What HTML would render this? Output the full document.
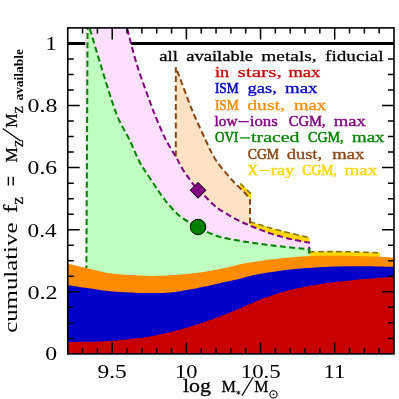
<!DOCTYPE html>
<html><head><meta charset="utf-8"><style>html,body{margin:0;padding:0;background:#fff}svg{display:block;will-change:transform}.sa{font-family:"Liberation Sans",sans-serif;fill:#000;stroke:#fff;stroke-width:0.4px}.se{font-family:"Liberation Serif",serif}</style></head><body><svg width="399" height="399" viewBox="0 0 399 399">
<rect width="399" height="399" fill="#fff"/>
<defs><clipPath id="c"><rect x="67.75" y="27.90" width="326.25" height="326.00"/></clipPath></defs>
<g clip-path="url(#c)">
<line x1="67.75" x2="394.00" y1="43.5" y2="43.5" stroke="#000" stroke-width="3.2"/>
<path d="M85.4,353.90 L85.2,20 L124.90,20.00 C125.25,21.33 124.98,20.50 127.00,28.00 C129.02,35.50 133.28,53.00 137.00,65.00 C140.72,77.00 145.97,90.83 149.30,100.00 C152.63,109.17 154.22,113.33 157.00,120.00 C159.78,126.67 162.78,133.75 166.00,140.00 C169.22,146.25 173.45,152.50 176.30,157.50 C179.15,162.50 180.73,166.17 183.10,170.00 C185.47,173.83 188.02,177.13 190.50,180.50 C192.98,183.87 195.58,187.57 198.00,190.20 C200.42,192.83 203.00,194.42 205.00,196.30 C207.00,198.18 208.33,199.88 210.00,201.50 C211.67,203.12 213.33,204.62 215.00,206.00 C216.67,207.38 217.50,208.17 220.00,209.80 C222.50,211.43 226.67,213.92 230.00,215.80 C233.33,217.68 236.67,219.47 240.00,221.10 C243.33,222.73 246.67,224.18 250.00,225.60 C253.33,227.02 256.67,228.30 260.00,229.60 C263.33,230.90 266.17,232.13 270.00,233.40 C273.83,234.67 278.83,236.10 283.00,237.20 C287.17,238.30 291.33,239.22 295.00,240.00 C298.67,240.78 302.62,241.47 305.00,241.90 C307.38,242.33 308.54,242.48 309.25,242.60 L309.25,353.90 Z" fill="#ffdfff"/>
<path d="M175.80,157.00 L175.80,67.30 L175.80,67.30 C176.62,69.42 177.98,72.88 180.70,80.00 C183.42,87.12 187.95,100.00 192.10,110.00 C196.25,120.00 201.65,131.67 205.60,140.00 C209.55,148.33 211.40,153.33 215.80,160.00 C220.20,166.67 227.13,174.50 232.00,180.00 C236.87,185.50 242.00,189.67 245.00,193.00 C248.00,196.33 249.17,198.83 250.00,200.00 L250.00,226 L250.00,225.60 L240.00,221.10 L230.00,215.80 L220.00,209.80 L215.00,206.00 L210.00,201.50 L205.00,196.30 L198.00,190.20 L190.50,180.50 L183.10,170.00 L176.30,157.50 Z" fill="#ffe1c4"/>
<path d="M86.3,353.90 L87.6,20 L87.10,20.00 C87.52,21.33 87.33,20.50 89.60,28.00 C91.87,35.50 97.03,53.00 100.70,65.00 C104.37,77.00 108.55,90.83 111.60,100.00 C114.65,109.17 116.00,113.33 119.00,120.00 C122.00,126.67 126.33,133.33 129.60,140.00 C132.87,146.67 136.12,155.00 138.60,160.00 C141.08,165.00 141.85,165.83 144.50,170.00 C147.15,174.17 151.08,180.00 154.50,185.00 C157.92,190.00 161.00,195.00 165.00,200.00 C169.00,205.00 174.25,211.17 178.50,215.00 C182.75,218.83 187.25,221.00 190.50,223.00 C193.75,225.00 195.58,225.68 198.00,227.00 C200.42,228.32 201.33,229.25 205.00,230.90 C208.67,232.55 214.17,235.23 220.00,236.90 C225.83,238.57 233.33,239.75 240.00,240.90 C246.67,242.05 253.33,242.90 260.00,243.80 C266.67,244.70 271.79,245.38 280.00,246.30 C288.21,247.22 304.38,248.80 309.25,249.30 L309.25,353.90 Z" fill="#bfffbf"/>
<path d="M240.2,187.9 L240.2,183.0 L251.0,193.4 L251.0,199.5 Z" fill="#ffd700"/>
<path d="M250.00,221.80 C251.67,222.30 255.00,223.33 260.00,224.80 C265.00,226.27 271.79,228.47 280.00,230.60 C288.21,232.73 304.38,236.43 309.25,237.60 L309.25,242.60 L305.00,241.90 L295.00,240.00 L283.00,237.20 L270.00,233.40 L260.00,229.60 L250.00,225.60 Z" fill="#ffd700"/>
<path d="M309.25,251.80 C312.71,251.77 322.38,251.58 330.00,251.60 C337.62,251.62 346.67,251.70 355.00,251.90 C363.33,252.10 375.83,252.65 380.00,252.80 L380,258 L309.25,258 Z" fill="#ffd700"/>
<path d="M67.00,263.50 C70.17,264.25 78.83,266.38 86.00,268.00 C93.17,269.62 101.83,272.05 110.00,273.25 C118.17,274.45 127.50,274.76 135.00,275.20 C142.50,275.64 148.33,275.93 155.00,275.90 C161.67,275.87 167.50,275.57 175.00,275.00 C182.50,274.43 191.67,273.67 200.00,272.50 C208.33,271.33 218.33,269.37 225.00,268.00 C231.67,266.63 235.83,265.20 240.00,264.30 C244.17,263.40 245.83,263.28 250.00,262.60 C254.17,261.92 258.33,261.05 265.00,260.20 C271.67,259.35 282.50,258.18 290.00,257.50 C297.50,256.82 303.33,256.38 310.00,256.10 C316.67,255.82 322.50,255.82 330.00,255.80 C337.50,255.78 346.67,255.85 355.00,256.00 C363.33,256.15 373.33,256.42 380.00,256.70 C386.67,256.98 392.50,257.53 395.00,257.70 L395.00,355.90 L67.00,355.90 Z" fill="#ff8c00"/>
<path d="M67.00,285.00 C70.00,285.47 77.83,286.76 85.00,287.80 C92.17,288.84 101.67,290.43 110.00,291.25 C118.33,292.07 128.33,292.41 135.00,292.70 C141.67,292.99 145.83,292.95 150.00,293.00 C154.17,293.05 155.83,293.17 160.00,293.00 C164.17,292.83 168.33,292.92 175.00,292.00 C181.67,291.08 191.67,289.17 200.00,287.50 C208.33,285.83 218.33,283.46 225.00,282.00 C231.67,280.54 235.83,279.75 240.00,278.75 C244.17,277.75 245.83,276.96 250.00,276.00 C254.17,275.04 258.33,274.08 265.00,273.00 C271.67,271.92 281.67,270.42 290.00,269.50 C298.33,268.58 308.33,267.97 315.00,267.50 C321.67,267.03 324.17,266.92 330.00,266.70 C335.83,266.48 343.33,266.27 350.00,266.20 C356.67,266.13 362.50,266.17 370.00,266.30 C377.50,266.43 390.83,266.88 395.00,267.00 L395.00,355.90 L67.00,355.90 Z" fill="#0000c8"/>
<path d="M67.00,341.90 C70.83,341.88 82.83,341.95 90.00,341.80 C97.17,341.65 102.50,341.53 110.00,341.00 C117.50,340.47 128.33,339.35 135.00,338.60 C141.67,337.85 143.33,337.77 150.00,336.50 C156.67,335.23 166.67,333.15 175.00,331.00 C183.33,328.85 191.67,326.33 200.00,323.60 C208.33,320.87 216.67,317.87 225.00,314.60 C233.33,311.33 243.33,306.80 250.00,304.00 C256.67,301.20 258.33,300.13 265.00,297.80 C271.67,295.47 281.67,292.13 290.00,290.00 C298.33,287.87 306.67,286.40 315.00,285.00 C323.33,283.60 331.67,282.60 340.00,281.60 C348.33,280.60 355.83,279.77 365.00,279.00 C374.17,278.23 390.00,277.33 395.00,277.00 L395.00,355.90 L67.00,355.90 Z" fill="#c80000"/>
<path d="M240.4,183.5 L251.0,193.9" stroke="#857200" stroke-dasharray="5.5,3.5" stroke-width="1.6" fill="none"/>
<path d="M250.00,221.80 C251.67,222.30 255.00,223.33 260.00,224.80 C265.00,226.27 271.79,228.47 280.00,230.60 C288.21,232.73 304.38,236.43 309.25,237.60" stroke="#857200" stroke-dasharray="5.5,3.5" stroke-width="1.6" fill="none"/>
<path d="M309.25,251.80 C312.71,251.77 322.38,251.58 330.00,251.60 C337.62,251.62 346.67,251.70 355.00,251.90 C363.33,252.10 375.83,252.65 380.00,252.80" stroke="#857200" stroke-dasharray="5.5,3.5" stroke-width="1.6" fill="none"/>
<path d="M175.80,156.5 L175.80,67.30 L175.80,67.30 C176.62,69.42 177.98,72.88 180.70,80.00 C183.42,87.12 187.95,100.00 192.10,110.00 C196.25,120.00 201.65,131.67 205.60,140.00 C209.55,148.33 211.40,153.33 215.80,160.00 C220.20,166.67 227.13,174.50 232.00,180.00 C236.87,185.50 242.00,189.67 245.00,193.00 C248.00,196.33 249.17,198.83 250.00,200.00 L250.00,224" stroke="#8b4513" stroke-dasharray="6,3.3" stroke-width="2" fill="none"/>
<path d="M124.90,20.00 C125.25,21.33 124.98,20.50 127.00,28.00 C129.02,35.50 133.28,53.00 137.00,65.00 C140.72,77.00 145.97,90.83 149.30,100.00 C152.63,109.17 154.22,113.33 157.00,120.00 C159.78,126.67 162.78,133.75 166.00,140.00 C169.22,146.25 173.45,152.50 176.30,157.50 C179.15,162.50 180.73,166.17 183.10,170.00 C185.47,173.83 188.02,177.13 190.50,180.50 C192.98,183.87 195.58,187.57 198.00,190.20 C200.42,192.83 203.00,194.42 205.00,196.30 C207.00,198.18 208.33,199.88 210.00,201.50 C211.67,203.12 213.33,204.62 215.00,206.00 C216.67,207.38 217.50,208.17 220.00,209.80 C222.50,211.43 226.67,213.92 230.00,215.80 C233.33,217.68 236.67,219.47 240.00,221.10 C243.33,222.73 246.67,224.18 250.00,225.60 C253.33,227.02 256.67,228.30 260.00,229.60 C263.33,230.90 266.17,232.13 270.00,233.40 C273.83,234.67 278.83,236.10 283.00,237.20 C287.17,238.30 291.33,239.22 295.00,240.00 C298.67,240.78 302.62,241.47 305.00,241.90 C307.38,242.33 308.54,242.48 309.25,242.60 L309.25,256" stroke="#800080" stroke-dasharray="6,3.3" stroke-width="2" fill="none"/>
<path d="M86.4,268 L87.6,20" stroke="#008000" stroke-dashoffset="3.45" stroke-dasharray="6,3.3" stroke-width="2" fill="none"/>
<path d="M87.10,20.00 C87.52,21.33 87.33,20.50 89.60,28.00 C91.87,35.50 97.03,53.00 100.70,65.00 C104.37,77.00 108.55,90.83 111.60,100.00 C114.65,109.17 116.00,113.33 119.00,120.00 C122.00,126.67 126.33,133.33 129.60,140.00 C132.87,146.67 136.12,155.00 138.60,160.00 C141.08,165.00 141.85,165.83 144.50,170.00 C147.15,174.17 151.08,180.00 154.50,185.00 C157.92,190.00 161.00,195.00 165.00,200.00 C169.00,205.00 174.25,211.17 178.50,215.00 C182.75,218.83 187.25,221.00 190.50,223.00 C193.75,225.00 195.58,225.68 198.00,227.00 C200.42,228.32 201.33,229.25 205.00,230.90 C208.67,232.55 214.17,235.23 220.00,236.90 C225.83,238.57 233.33,239.75 240.00,240.90 C246.67,242.05 253.33,242.90 260.00,243.80 C266.67,244.70 271.79,245.38 280.00,246.30 C288.21,247.22 304.38,248.80 309.25,249.30 L309.25,256" stroke="#008000" stroke-dasharray="6,3.3" stroke-width="2" fill="none"/>
<path d="M198.05,182.4 L205.95,190.3 L198.05,198.2 L190.15,190.3 Z" fill="#800080" stroke="#000" stroke-width="1"/>
<circle cx="198.05" cy="227.0" r="7.7" fill="#008000" stroke="#000" stroke-width="1"/>
</g>
<g stroke="#000" stroke-width="1.6" fill="none">
<rect x="67.75" y="27.90" width="326.25" height="326.00"/>
<path d="M82.58,353.90 v-5.70 M82.58,27.90 v5.70 M97.41,353.90 v-5.70 M97.41,27.90 v5.70 M112.24,353.90 v-11.50 M112.24,27.90 v11.50 M127.07,353.90 v-5.70 M127.07,27.90 v5.70 M141.90,353.90 v-5.70 M141.90,27.90 v5.70 M156.73,353.90 v-5.70 M156.73,27.90 v5.70 M171.56,353.90 v-5.70 M171.56,27.90 v5.70 M186.39,353.90 v-11.50 M186.39,27.90 v11.50 M201.22,353.90 v-5.70 M201.22,27.90 v5.70 M216.05,353.90 v-5.70 M216.05,27.90 v5.70 M230.88,353.90 v-5.70 M230.88,27.90 v5.70 M245.70,353.90 v-5.70 M245.70,27.90 v5.70 M260.53,353.90 v-11.50 M260.53,27.90 v11.50 M275.36,353.90 v-5.70 M275.36,27.90 v5.70 M290.19,353.90 v-5.70 M290.19,27.90 v5.70 M305.02,353.90 v-5.70 M305.02,27.90 v5.70 M319.85,353.90 v-5.70 M319.85,27.90 v5.70 M334.68,353.90 v-11.50 M334.68,27.90 v11.50 M349.51,353.90 v-5.70 M349.51,27.90 v5.70 M364.34,353.90 v-5.70 M364.34,27.90 v5.70 M379.17,353.90 v-5.70 M379.17,27.90 v5.70 M67.75,338.38 h6.00 M394.00,338.38 h-6.00 M67.75,322.85 h6.00 M394.00,322.85 h-6.00 M67.75,307.33 h6.00 M394.00,307.33 h-6.00 M67.75,291.80 h12.00 M394.00,291.80 h-12.00 M67.75,276.28 h6.00 M394.00,276.28 h-6.00 M67.75,260.76 h6.00 M394.00,260.76 h-6.00 M67.75,245.23 h6.00 M394.00,245.23 h-6.00 M67.75,229.71 h12.00 M394.00,229.71 h-12.00 M67.75,214.19 h6.00 M394.00,214.19 h-6.00 M67.75,198.66 h6.00 M394.00,198.66 h-6.00 M67.75,183.14 h6.00 M394.00,183.14 h-6.00 M67.75,167.61 h12.00 M394.00,167.61 h-12.00 M67.75,152.09 h6.00 M394.00,152.09 h-6.00 M67.75,136.57 h6.00 M394.00,136.57 h-6.00 M67.75,121.04 h6.00 M394.00,121.04 h-6.00 M67.75,105.52 h12.00 M394.00,105.52 h-12.00 M67.75,90.00 h6.00 M394.00,90.00 h-6.00 M67.75,74.47 h6.00 M394.00,74.47 h-6.00 M67.75,58.95 h6.00 M394.00,58.95 h-6.00 M67.75,43.42 h12.00 M394.00,43.42 h-12.00" stroke-width="1.5"/>
</g>
<text class="se" x="27.51" y="298.82" font-size="19.70" textLength="30.17" lengthAdjust="spacingAndGlyphs" fill="#000">0.2</text>
<text class="se" x="27.63" y="236.74" font-size="19.70" textLength="29.06" lengthAdjust="spacingAndGlyphs" fill="#000">0.4</text>
<text class="se" x="27.58" y="174.02" font-size="19.70" textLength="29.57" lengthAdjust="spacingAndGlyphs" fill="#000">0.6</text>
<text class="se" x="27.55" y="111.94" font-size="19.70" textLength="29.84" lengthAdjust="spacingAndGlyphs" fill="#000">0.8</text>
<text class="se" x="45.39" y="360.31" font-size="19.70" textLength="11.88" lengthAdjust="spacingAndGlyphs" fill="#000">0</text>
<text class="se" x="45.52" y="49.76" font-size="19.70" textLength="11.19" lengthAdjust="spacingAndGlyphs" fill="#000">1</text>
<text class="se" x="97.47" y="377.60" font-size="19.70" textLength="29.26" lengthAdjust="spacingAndGlyphs" fill="#000">9.5</text>
<text class="se" x="174.94" y="377.60" font-size="19.70" textLength="22.41" lengthAdjust="spacingAndGlyphs" fill="#000">10</text>
<text class="se" x="240.76" y="377.60" font-size="19.70" textLength="40.02" lengthAdjust="spacingAndGlyphs" fill="#000">10.5</text>
<text class="se" x="323.63" y="377.60" font-size="19.70" textLength="21.75" lengthAdjust="spacingAndGlyphs" fill="#000">11</text>
<text class="se" font-size="15.5" x="159.20" y="60.70" fill="#000" stroke="#000" stroke-width="0.28" textLength="18.70" lengthAdjust="spacingAndGlyphs">all</text>
<text class="se" font-size="15.5" x="186.30" y="60.70" fill="#000" stroke="#000" stroke-width="0.30" textLength="66.70" lengthAdjust="spacingAndGlyphs">available</text>
<text class="se" font-size="15.5" x="261.30" y="60.70" fill="#000" stroke="#000" stroke-width="0.25" textLength="55.40" lengthAdjust="spacingAndGlyphs">metals,</text>
<text class="se" font-size="15.5" x="325.10" y="60.70" fill="#000" stroke="#000" stroke-width="0.26" textLength="58.40" lengthAdjust="spacingAndGlyphs">fiducial</text>
<text class="se" font-size="15.5" x="214.90" y="77.00" fill="#c80000" stroke="#c80000" stroke-width="0.31" textLength="14.20" lengthAdjust="spacingAndGlyphs">in</text>
<text class="se" font-size="15.5" x="237.40" y="77.00" fill="#c80000" stroke="#c80000" stroke-width="0.25" textLength="44.50" lengthAdjust="spacingAndGlyphs">stars,</text>
<text class="se" font-size="15.5" x="288.50" y="77.00" fill="#c80000" stroke="#c80000" stroke-width="0.30" textLength="31.70" lengthAdjust="spacingAndGlyphs">max</text>
<text class="se" font-size="15.5" x="214.90" y="93.30" fill="#0000c8" stroke="#0000c8" stroke-width="0.56" textLength="23.90" lengthAdjust="spacingAndGlyphs">ISM</text>
<text class="se" font-size="15.5" x="247.50" y="93.30" fill="#0000c8" stroke="#0000c8" stroke-width="0.29" textLength="29.40" lengthAdjust="spacingAndGlyphs">gas,</text>
<text class="se" font-size="15.5" x="285.10" y="93.30" fill="#0000c8" stroke="#0000c8" stroke-width="0.28" textLength="32.40" lengthAdjust="spacingAndGlyphs">max</text>
<text class="se" font-size="15.5" x="214.90" y="109.60" fill="#ff8c00" stroke="#ff8c00" stroke-width="0.56" textLength="23.90" lengthAdjust="spacingAndGlyphs">ISM</text>
<text class="se" font-size="15.5" x="247.30" y="109.60" fill="#ff8c00" stroke="#ff8c00" stroke-width="0.25" textLength="37.60" lengthAdjust="spacingAndGlyphs">dust,</text>
<text class="se" font-size="15.5" x="294.00" y="109.60" fill="#ff8c00" stroke="#ff8c00" stroke-width="0.29" textLength="32.10" lengthAdjust="spacingAndGlyphs">max</text>
<text class="se" font-size="15.5" x="214.60" y="125.90" fill="#800080" stroke="#800080" stroke-width="0.47" textLength="22.80" lengthAdjust="spacingAndGlyphs">low</text>
<path d="M238.30,121.60 H248.80" stroke="#800080" stroke-width="1.25" fill="none"/>
<text class="se" font-size="15.5" x="249.80" y="125.90" fill="#800080" stroke="#800080" stroke-width="0.38" textLength="28.00" lengthAdjust="spacingAndGlyphs">ions</text>
<text class="se" font-size="15.5" x="288.70" y="125.90" fill="#800080" stroke="#800080" stroke-width="0.50" textLength="36.80" lengthAdjust="spacingAndGlyphs">CGM,</text>
<text class="se" font-size="15.5" x="333.80" y="125.90" fill="#800080" stroke="#800080" stroke-width="0.29" textLength="32.10" lengthAdjust="spacingAndGlyphs">max</text>
<text class="se" font-size="15.5" x="215.10" y="142.20" fill="#008000" stroke="#008000" stroke-width="0.57" textLength="23.30" lengthAdjust="spacingAndGlyphs">OVI</text>
<path d="M240.10,137.90 H250.10" stroke="#008000" stroke-width="1.25" fill="none"/>
<text class="se" font-size="15.5" x="251.10" y="142.20" fill="#008000" stroke="#008000" stroke-width="0.25" textLength="48.30" lengthAdjust="spacingAndGlyphs">traced</text>
<text class="se" font-size="15.5" x="308.00" y="142.20" fill="#008000" stroke="#008000" stroke-width="0.52" textLength="35.60" lengthAdjust="spacingAndGlyphs">CGM,</text>
<text class="se" font-size="15.5" x="352.00" y="142.20" fill="#008000" stroke="#008000" stroke-width="0.28" textLength="32.40" lengthAdjust="spacingAndGlyphs">max</text>
<text class="se" font-size="15.5" x="247.70" y="158.50" fill="#8b4513" stroke="#8b4513" stroke-width="0.54" textLength="31.40" lengthAdjust="spacingAndGlyphs">CGM</text>
<text class="se" font-size="15.5" x="286.80" y="158.50" fill="#8b4513" stroke="#8b4513" stroke-width="0.30" textLength="35.30" lengthAdjust="spacingAndGlyphs">dust,</text>
<text class="se" font-size="15.5" x="332.20" y="158.50" fill="#8b4513" stroke="#8b4513" stroke-width="0.29" textLength="32.00" lengthAdjust="spacingAndGlyphs">max</text>
<text class="se" font-size="15.5" x="247.40" y="174.80" fill="#ffd700" stroke="#ffd700" stroke-width="0.51" textLength="10.40" lengthAdjust="spacingAndGlyphs">X</text>
<path d="M259.50,170.50 H269.60" stroke="#ffd700" stroke-width="1.25" fill="none"/>
<text class="se" font-size="15.5" x="271.00" y="174.80" fill="#ffd700" stroke="#ffd700" stroke-width="0.31" textLength="23.20" lengthAdjust="spacingAndGlyphs">ray</text>
<text class="se" font-size="15.5" x="302.30" y="174.80" fill="#ffd700" stroke="#ffd700" stroke-width="0.55" textLength="34.50" lengthAdjust="spacingAndGlyphs">CGM,</text>
<text class="se" font-size="15.5" x="344.50" y="174.80" fill="#ffd700" stroke="#ffd700" stroke-width="0.27" textLength="32.70" lengthAdjust="spacingAndGlyphs">max</text>
<text class="se" x="183.00" y="392.20" font-size="19.30" textLength="28.00" lengthAdjust="spacingAndGlyphs" stroke="#000" stroke-width="0.3" >log</text>
<text class="se" x="221.60" y="392.00" font-size="17.00" textLength="14.40" lengthAdjust="spacingAndGlyphs" stroke="#000" stroke-width="0.3" >M</text>
<text class="se" x="254.20" y="392.00" font-size="17.00" textLength="14.20" lengthAdjust="spacingAndGlyphs" stroke="#000" stroke-width="0.3" >M</text>
<path d="M242.0,395.6 L253.2,377.0" stroke="#000" stroke-width="1.2" fill="none"/>
<path d="M238.4,390.5 v4.2 M236.5,391.55 l3.8,2.1 M236.5,393.65 l3.8,-2.1" stroke="#000" stroke-width="0.9" fill="none"/>
<circle cx="273.5" cy="394.4" r="3.6" stroke="#000" stroke-width="1.1" fill="none"/><circle cx="273.5" cy="394.4" r="0.9" fill="#000"/>
<text class="se" transform="translate(17.20,332.80) rotate(-90)" font-size="19.30" textLength="110.20" lengthAdjust="spacingAndGlyphs" >cumulative</text>
<text class="se" transform="translate(17.30,212.80) rotate(-90)" font-size="19.30" textLength="8.00" lengthAdjust="spacingAndGlyphs" stroke="#000" stroke-width="0.3">f</text>
<text class="se" transform="translate(23.20,204.70) rotate(-90)" font-size="12.00" textLength="7.90" lengthAdjust="spacingAndGlyphs" stroke="#000" stroke-width="0.3">Z</text>
<path d="M8.4,176.7 V185.4 M13.2,176.7 V185.4" stroke="#000" stroke-width="1.4" fill="none"/>
<text class="se" transform="translate(17.30,162.60) rotate(-90)" font-size="16.20" textLength="15.20" lengthAdjust="spacingAndGlyphs" stroke="#000" stroke-width="0.3">M</text>
<text class="se" transform="translate(23.20,147.30) rotate(-90)" font-size="12.00" textLength="7.50" lengthAdjust="spacingAndGlyphs" stroke="#000" stroke-width="0.3">Z</text>
<path d="M20.7,141.1 L2.8,128.5" stroke="#000" stroke-width="1.2" fill="none"/>
<text class="se" transform="translate(17.30,127.80) rotate(-90)" font-size="16.20" textLength="14.30" lengthAdjust="spacingAndGlyphs" stroke="#000" stroke-width="0.3">M</text>
<text class="se" transform="translate(23.20,113.50) rotate(-90)" font-size="12.00" textLength="7.50" lengthAdjust="spacingAndGlyphs" stroke="#000" stroke-width="0.3">Z</text>
<text class="se" transform="translate(23.00,100.60) rotate(-90)" font-size="11.60" textLength="51.60" lengthAdjust="spacingAndGlyphs" font-weight="bold">available</text>
</svg></body></html>
